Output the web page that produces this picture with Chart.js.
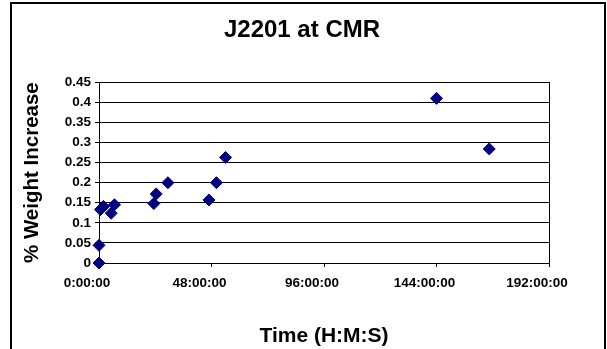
<!DOCTYPE html>
<html>
<head>
<meta charset="utf-8">
<script src="https://cdn.jsdelivr.net/npm/chart.js@4"></script>
<style>
  body { margin: 0; background: #fff; }
  #wrap { width: 607px; height: 349px; }
</style>
</head>
<body>
<div id="wrap"><canvas id="chart" width="607" height="349"></canvas></div>
<script>
// time in hours, weight increase in %
const hours = [0, 0, 0.6, 1.9, 5.2, 6.6, 23.4, 24.4, 29.4, 46.9, 50.1, 54, 144, 166.5];
const weightIncrease = [0, 0.044, 0.133, 0.141, 0.124, 0.145, 0.148, 0.172, 0.2, 0.157, 0.2, 0.263, 0.41, 0.284];
const xTicks = [0, 48, 96, 144, 192];
const yTicks = [0, 0.05, 0.1, 0.15, 0.2, 0.25, 0.3, 0.35, 0.4, 0.45];

const FONT = '"Liberation Sans", Arial, sans-serif';

const frame = {
    id: 'frame',
    beforeDatasetsDraw(chart) {
        const ctx = chart.ctx;
        const a = chart.chartArea;
        ctx.save();
        ctx.strokeStyle = '#000';
        ctx.lineWidth = 1;
        ctx.strokeRect(Math.round(a.left) + 0.5, Math.round(a.top) + 0.5,
            Math.round(a.right - a.left), Math.round(a.bottom - a.top));
        ctx.restore();
    },
    afterDraw(chart) {
        const ctx = chart.ctx;
        ctx.save();
        // outer chart border
        ctx.strokeStyle = '#000';
        ctx.lineWidth = 2;
        ctx.beginPath();
        ctx.moveTo(11, 349);
        ctx.lineTo(11, 3);
        ctx.lineTo(605, 3);
        ctx.lineTo(605, 349);
        ctx.stroke();
        ctx.restore();
    }
};

new Chart(document.getElementById('chart'), {
    type: 'scatter',
    data: {
        datasets: [{
            data: hours.map((h, i) => ({ x: h, y: weightIncrease[i] })),
            pointStyle: 'rectRot',
            pointRadius: 6,
            pointHoverRadius: 6,
            backgroundColor: '#000080',
            borderColor: '#000080',
            borderWidth: 1,
            clip: false
        }]
    },
    options: {
        responsive: false,
        animation: false,
        layout: { padding: { left: 10, right: 13, top: 0, bottom: 0 } },
        plugins: {
            legend: { display: false },
            tooltip: { enabled: false },
            title: {
                display: true,
                text: 'J2201 at CMR',
                color: '#000',
                font: { family: FONT, size: 24, weight: 'bold' },
                padding: { top: 16, bottom: 37.5 }
            }
        },
        scales: {
            x: {
                type: 'linear',
                min: 0,
                max: 192,
                afterBuildTicks: s => { s.ticks = xTicks.map(v => ({ value: v })); },
                afterFit: s => { s.height = 86; },
                ticks: {
                    color: '#000',
                    font: { family: FONT, size: 13.5, weight: 'bold' },
                    padding: 8.5,
                    labelOffset: -12,
                    maxRotation: 0,
                    callback: v => v + ':00:00'
                },
                grid: { drawOnChartArea: false, drawTicks: true, tickLength: 4, color: '#000' },
                border: { color: '#000', width: 1 },
                title: {
                    display: true,
                    text: 'Time (H:M:S)',
                    color: '#000',
                    font: { family: FONT, size: 21, weight: 'bold' },
                    padding: { top: 24.4, bottom: 0 }
                }
            },
            y: {
                min: 0,
                max: 0.45,
                afterBuildTicks: s => { s.ticks = yTicks.map(v => ({ value: v })); },
                afterFit: s => { s.width = 89; },
                ticks: {
                    color: '#000',
                    font: { family: FONT, size: 13.5, weight: 'bold' },
                    padding: 4,
                    callback: v => String(parseFloat(v.toFixed(2)))
                },
                grid: { color: '#000', tickLength: 4 },
                border: { color: '#000', width: 1 },
                title: {
                    display: true,
                    text: '% Weight Increase',
                    color: '#000',
                    font: { family: FONT, size: 20.5, weight: 'bold' },
                    padding: { top: 9.7, bottom: 0 }
                }
            },
            // empty space on the right of the plot, keeps the title centred like the original
            yRight: {
                type: 'linear',
                position: 'right',
                afterFit: s => { s.width = 45; },
                ticks: { display: false },
                grid: { display: false },
                border: { display: false }
            }
        }
    },
    plugins: [frame]
});
</script>
</body>
</html>
